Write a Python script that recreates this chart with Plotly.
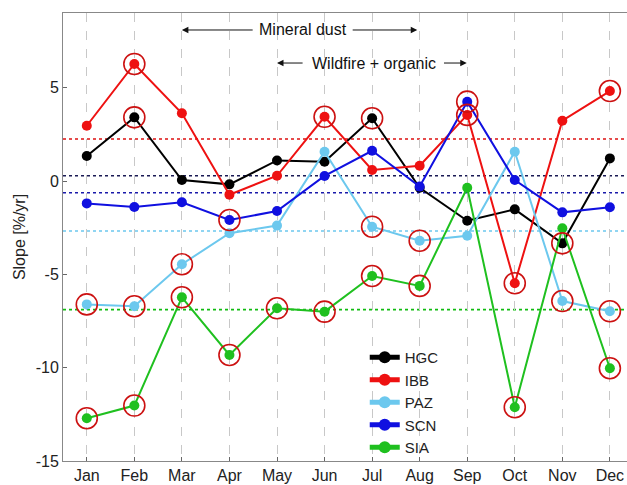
import plotly.graph_objects as go

months = ["Jan", "Feb", "Mar", "Apr", "May", "Jun", "Jul", "Aug", "Sep", "Oct", "Nov", "Dec"]
month_idx = list(range(1, 13))

hgc = [1.34, 3.41, 0.05, -0.18, 1.10, 1.03, 3.36, -0.36, -2.13, -1.52, -3.34, 1.21]
ibb = [2.96, 6.27, 3.63, -0.73, 0.28, 3.44, 0.59, 0.82, 3.54, -5.48, 3.23, 4.82]
paz = [-6.61, -6.71, -4.46, -2.80, -2.39, 1.57, -2.45, -3.20, -2.93, 1.57, -6.43, -6.98]
scn = [-1.20, -1.39, -1.14, -2.09, -1.61, 0.27, 1.62, -0.30, 4.25, 0.05, -1.68, -1.41]
sia = [-12.71, -12.03, -6.23, -9.32, -6.82, -7.00, -5.09, -5.62, -0.36, -12.12, -2.53, -10.03]

# significant months (circled), 1-based month numbers
sig_hgc = [2, 7, 11]
sig_ibb = [2, 6, 9, 10, 12]
sig_paz = [1, 2, 3, 7, 8, 11, 12]
sig_scn = [4, 9]
sig_sia = [1, 2, 3, 4, 5, 6, 7, 8, 10, 12]

# reference (annual) slope levels, dotted lines
ref_levels = {"HGC": 0.28, "IBB": 2.25, "PAZ": -2.68, "SCN": -0.63, "SIA": -6.89}

ytick_vals = [5, 0, -5, -10, -15]
ytick_text = ["5", "0", "-5", "-10", "-15"]

series = [
    ("HGC", hgc, sig_hgc, "#000000", "#1a1a55"),
    ("IBB", ibb, sig_ibb, "#ee1111", "#dd1111"),
    ("PAZ", paz, sig_paz, "#6cc8ee", "#6cc8ee"),
    ("SCN", scn, sig_scn, "#1010e0", "#1a1aaa"),
    ("SIA", sia, sig_sia, "#1fc01f", "#11bb11"),
]

fig = go.Figure()

for name, vals, sig, col, refcol in series:
    fig.add_shape(type="line", xref="paper", x0=0, x1=1, yref="y",
                  y0=ref_levels[name], y1=ref_levels[name],
                  line=dict(color=refcol, width=1.6, dash="dot"), layer="below")

for name, vals, sig, col, refcol in series:
    fig.add_trace(go.Scatter(x=month_idx, y=vals, mode="lines+markers", name=name,
                             line=dict(color=col, width=2),
                             marker=dict(color=col, size=10, symbol="circle")))

for name, vals, sig, col, refcol in series:
    fig.add_trace(go.Scatter(x=sig, y=[vals[m - 1] for m in sig], mode="markers",
                             showlegend=False, hoverinfo="skip",
                             marker=dict(size=21, symbol="circle-open",
                                         color="#cc1111", line=dict(width=1.6, color="#cc1111"))))

# annotations with arrows
def arrow(x_head, x_tail, y):
    fig.add_annotation(x=x_head, y=y, ax=x_tail, ay=y, xref="x", yref="y",
                       axref="x", ayref="y", text="", showarrow=True,
                       arrowhead=2, arrowsize=1.3, arrowwidth=1, arrowcolor="#111111")

arrow(3.0, 4.52, 8.09)
arrow(7.95, 6.56, 8.09)
arrow(5.0, 5.57, 6.32)
arrow(8.99, 8.48, 6.32)
fig.add_annotation(x=5.54, y=8.09, text="Mineral dust", showarrow=False,
                   font=dict(size=16, color="#111111"))
fig.add_annotation(x=7.03, y=6.32, text="Wildfire + organic", showarrow=False,
                   font=dict(size=16, color="#111111"))

fig.update_layout(
    width=627, height=485,
    margin=dict(l=63, r=0, t=13, b=24),
    paper_bgcolor="white", plot_bgcolor="white",
    font=dict(family="Liberation Sans, Arial, sans-serif", size=16, color="#222222"),
    showlegend=True,
    legend=dict(x=0.535, y=0.268, xanchor="left", yanchor="top",
                bgcolor="rgba(0,0,0,0)", font=dict(size=15),
                tracegroupgap=0, itemsizing="constant"),
    xaxis=dict(range=[0.5, 12.36], tickvals=month_idx, ticktext=months,
               showgrid=True, gridcolor="#c8c8c8", griddash="dash", gridwidth=1,
               showline=True, linecolor="#888888", linewidth=1, mirror=True,
               ticks="inside", ticklen=4, tickcolor="#666666", zeroline=False,
               tickfont=dict(size=16)),
    yaxis=dict(range=[-15, 9], tickvals=ytick_vals, ticktext=ytick_text,
               showgrid=False, zeroline=False,
               showline=True, linecolor="#888888", linewidth=1,
               ticks="inside", ticklen=4, tickcolor="#666666",
               title=dict(text="Slope [%/yr]", font=dict(size=16), standoff=6),
               tickfont=dict(size=16)),
)

fig.write_html("out.html", config={"displayModeBar": False},
               post_script="document.body.style.margin='0';document.body.style.overflow='hidden';")
